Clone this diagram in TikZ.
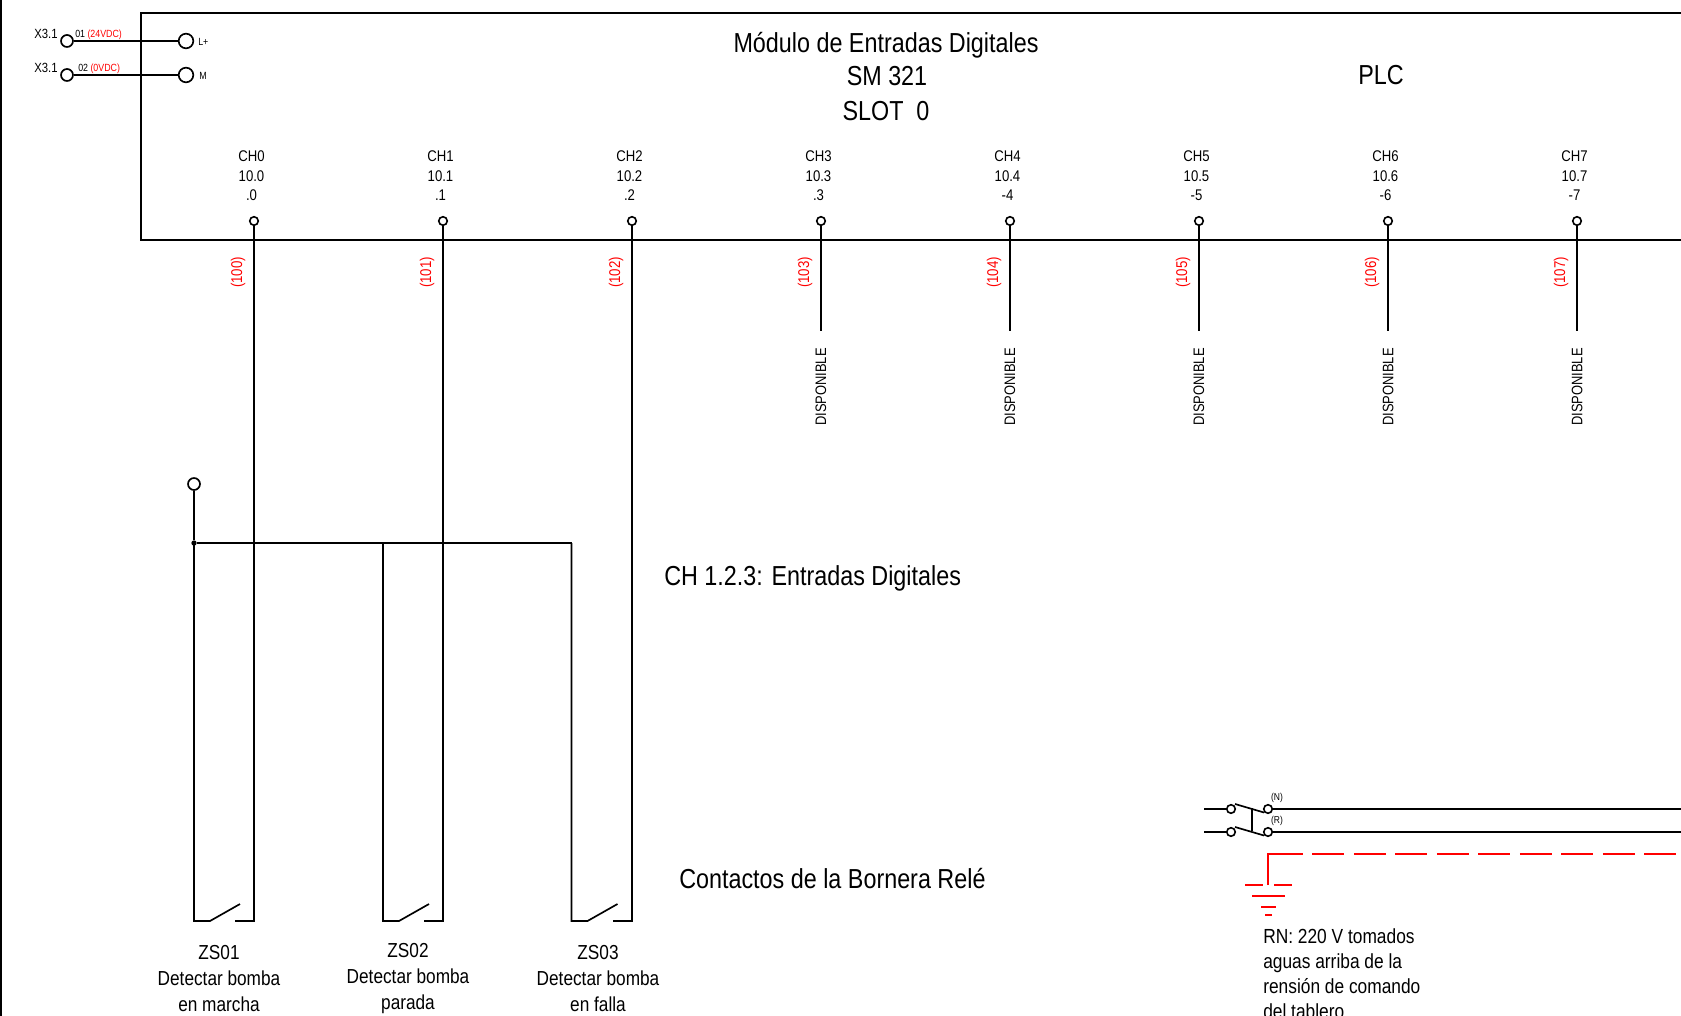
\documentclass[tikz,border=0pt]{standalone}
\usepackage{fontspec}
\setmainfont[FakeStretch=0.85]{Liberation Sans}
\tikzset{
    wire/.style={line width=1.25pt, black},
    pin/.style={circle, draw, line width=1.2pt, fill=white, inner sep=0pt, minimum size=6.4pt},
    term/.style={circle, draw, line width=1.25pt, fill=white, inner sep=0pt, minimum size=9pt},
    bigterm/.style={circle, draw, line width=1.25pt, fill=white, inner sep=0pt, minimum size=11pt},
    chtext/.style={align=center, inner sep=0pt, font=\fontsize{11.6}{14.6}\selectfont},
    wiretext/.style={red, rotate=90, inner sep=0pt, font=\fontsize{11.7}{12}\selectfont},
    freetext/.style={black, rotate=90, inner sep=0pt, font=\fontsize{11.4}{12}\selectfont},
    title/.style={inner sep=0pt, font=\fontsize{20.6}{24}\selectfont},
    tag/.style={align=center, inner sep=0pt, font=\fontsize{15.2}{19.5}\selectfont},
    small/.style={inner sep=0pt, anchor=west, font=\fontsize{7.8}{9}\selectfont},
    earth/.style={red, line width=1.25pt}
}
\newcommand{\canal}[6]{
    \node[pin] (pin#1) at (#2,221) {};
    \node[chtext] (txt#1) at (#2-2.5,176) {#3\\#4\\#5};
    \node[wiretext] (num#1) at (#2-16,272.5) {(#6)};
}
\newcommand{\libre}[2]{
    \coordinate (end#1) at (#2,331);
    \draw[wire] (pin#1) -- (end#1);
    \node[freetext] (disp#1) at (#2,387) {DISPONIBLE};
}
\newcommand{\contacto}[3]{
    \coordinate (top#1) at (#2,543);
    \coordinate (left#1) at (#2,921);
    \coordinate (right#1) at (#3,921);
    \draw[wire] (top#1) -- (left#1) -- +(16,0) -- +(46,-17);
    \draw[wire] (pin#1) -- (right#1) -- +(-19,0);
}
\begin{document}
\begin{tikzpicture}[x=0.75pt, y=-0.75pt]
        \useasboundingbox (0,0) rectangle (1681,1016);

        % frame
        \coordinate (frameA) at (1681,13);
        \coordinate (frameB) at (141,13);
        \coordinate (frameC) at (141,240);
        \coordinate (frameD) at (1681,240);
        \draw[wire] (frameA) -- (frameB) -- (frameC) -- (frameD);
        \coordinate (barA) at (1,0);
        \coordinate (barB) at (1,1016);
        \draw[line width=1.6pt] (barA) -- (barB);

        % supply
        \node[term] (x1) at (67,41) {};
        \node[term] (x2) at (67,75) {};
        \node[bigterm] (lplus) at (186,41) {};
        \node[bigterm] (lm) at (186,75) {};
        \draw[wire] (x1) -- (lplus);
        \draw[wire] (x2) -- (lm);
        \node[inner sep=0pt, font=\fontsize{10}{11}\selectfont] (xa) at (46,33.5) {X3.1};
        \node[inner sep=0pt, font=\fontsize{10}{11}\selectfont] (xb) at (46,67.5) {X3.1};
        \node[small] (ta) at (75,35) {01 \textcolor{red}{(24VDC)}};
        \node[small] (tb) at (78,69) {02 \textcolor{red}{(0VDC)}};
        \node[small] (tc) at (198,41.5) {L+};
        \node[small] (td) at (199,75.5) {M};

        % titles
        \node[title] (modulo) at (886,45) {Módulo de Entradas Digitales};
        \node[title] (sm) at (887,76) {SM 321};
        \node[title] (slot) at (886,111.5) {SLOT\ \ 0};
        \node[title] (plc) at (1381,75.5) {PLC};
        \node[title, anchor=west] (entradas) at (664,578.5) {CH 1.2.3: Entradas Digitales};
        \node[title, anchor=west] (contactos) at (679,879) {Contactos de la Bornera Relé};

        % channels
        \canal{0}{254}{CH0}{10.0}{.0}{100}
        \canal{1}{443}{CH1}{10.1}{.1}{101}
        \canal{2}{632}{CH2}{10.2}{.2}{102}
        \canal{3}{821}{CH3}{10.3}{.3}{103}
        \canal{4}{1010}{CH4}{10.4}{-4}{104}
        \canal{5}{1199}{CH5}{10.5}{-5}{105}
        \canal{6}{1388}{CH6}{10.6}{-6}{106}
        \canal{7}{1577}{CH7}{10.7}{-7}{107}

        \libre{3}{821}
        \libre{4}{1010}
        \libre{5}{1199}
        \libre{6}{1388}
        \libre{7}{1577}

        % contacts
        \contacto{0}{194}{254}
        \contacto{1}{383}{443}
        \contacto{2}{571.5}{632}

        \node[term] (com) at (194,484) {};
        \node[circle, fill=black, inner sep=0pt, minimum size=4pt] (junta) at (194,543) {};
        \draw[wire] (com) -- (junta);
        \draw[wire] (junta) -- (top2);

        \node[tag] (zs0) at (219,978.5) {ZS01\\Detectar bomba\\en marcha};
        \node[tag] (zs1) at (408,979) {ZS02\\Detectar bomba\\parada};
        \node[tag] (zs2) at (598,978.5) {ZS03\\Detectar bomba\\en falla};

        % breaker
        \coordinate (inN) at (1204,809);
        \coordinate (inR) at (1204,832);
        \coordinate (outN) at (1681,809);
        \coordinate (outR) at (1681,832);
        \node[pin] (qa) at (1231,809) {};
        \node[pin] (qb) at (1231,832) {};
        \node[pin] (qc) at (1268,809) {};
        \node[pin] (qd) at (1268,832) {};
        \draw[wire] (inN) -- (qa);
        \draw[wire] (inR) -- (qb);
        \draw[wire] (qc) -- (outN);
        \draw[wire] (qd) -- (outR);
        \coordinate (bladeA) at (1235,804);
        \coordinate (bladeB) at (1264,812.5);
        \coordinate (bladeC) at (1235,827);
        \coordinate (bladeD) at (1264,835.5);
        \draw[wire] (bladeA) -- (bladeB);
        \draw[wire] (bladeC) -- (bladeD);
        \coordinate (linkA) at (1252,808);
        \coordinate (linkB) at (1252,831);
        \draw[wire] (linkA) -- (linkB);
        \node[inner sep=0pt, font=\fontsize{7.5}{8}\selectfont] (lbn) at (1277,798) {(N)};
        \node[inner sep=0pt, font=\fontsize{7.5}{8}\selectfont] (lbr) at (1277,821) {(R)};

        % earth
        \coordinate (peA) at (1268,885);
        \coordinate (peB) at (1268,854);
        \coordinate (peC) at (1271,854);
        \coordinate (peD) at (1681,854);
        \draw[earth] (peA) -- (peB) -- (peC);
        \draw[earth, dash pattern=on 24pt off 7.1pt] (peC) -- (peD);
        \draw[earth] (1245,885) -- (1263,885);
        \draw[earth] (1274,885) -- (1292,885);
        \draw[earth] (1252,896) -- (1285,896);
        \draw[earth] (1261,907) -- (1276,907);
        \draw[earth] (1265,915) -- (1272,915);

        \node[tag, align=left, anchor=north west, font=\fontsize{15.3}{18.75}\selectfont] (nota) at (1263,928) {RN: 220 V tomados\\aguas arriba de la\\rensión de comando\\del tablero};
\end{tikzpicture}
\end{document}
